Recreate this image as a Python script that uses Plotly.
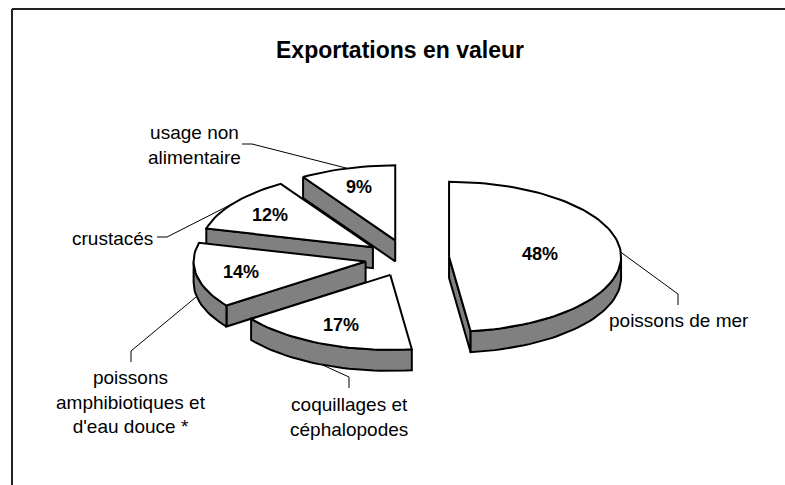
import numpy as np
import plotly.graph_objects as go

# ---------------- data ----------------
categories = ["poissons de mer", "coquillages et céphalopodes",
              "poissons amphibiotiques et d'eau douce *", "crustacés",
              "usage non alimentaire"]
category_text = ["poissons de mer", "coquillages et<br>céphalopodes",
                 "poissons<br>amphibiotiques et<br>d'eau douce *", "crustacés",
                 "usage non<br>alimentaire"]
values = [48, 17, 14, 12, 9]
title = "Exportations en valeur"

# ---------------- geometry / style ----------------
CX, CY = 407, 258          # pie centre (pixel units)
RX, RY = 172, 75           # ellipse radii of the tilted pie
DEPTH = 21                 # thickness of the 3D pie
EXPLODE = 0.245            # explosion as fraction of radius
SIDE = "#808080"
TOP = "#ffffff"
EDGE = "#000000"
FONT = "Liberation Sans, Arial, sans-serif"

# text anchor + leader elbows for outside category labels
label_layout = [
    dict(x=679, y=320, xanchor="center", elbow=[(678, 294), (678, 305)]),
    dict(x=349, y=417, xanchor="center", elbow=[(349, 377), (349, 388)]),
    dict(x=131, y=402, xanchor="center", elbow=[(131, 351), (131, 362)]),
    dict(x=155, y=238, xanchor="right", elbow=[(167, 237), (157, 237)]),
    dict(x=194, y=145, xanchor="center", elbow=[(252, 144), (242, 144)]),
]


def ell(theta_deg, ox, oy, s=1.0):
    t = np.radians(theta_deg)
    return ox + s * RX * np.sin(t), oy - s * RY * np.cos(t)


total = float(sum(values))
slices = []
a = 0.0
for i, v in enumerate(values):
    a0, a1 = a, a + 360.0 * v / total
    a = a1
    am = 0.5 * (a0 + a1)
    ax_, ay_ = ell(am, CX, CY, EXPLODE)   # apex after explosion
    n = max(8, int(abs(a1 - a0) / 2))
    th = np.linspace(a0, a1, n)
    px, py = ell(th, ax_, ay_)
    alpha = np.radians(a1 - a0)
    cf = 2.0 / 3.0 * np.sin(alpha / 2) / (alpha / 2)
    lx, ly = ell(am, ax_, ay_, cf + 0.09)
    slices.append(dict(i=i, a0=a0, a1=a1, am=am, ax=ax_, ay=ay_, th=th,
                       px=px, py=py, lx=lx, ly=ly,
                       cy=ay_ + cf * (-RY * np.cos(np.radians(am)))))

fig = go.Figure()


def poly(xs, ys, fill):
    xs = list(xs) + [xs[0]]
    ys = list(ys) + [ys[0]]
    fig.add_trace(go.Scatter(x=xs, y=ys, mode="lines", fill="toself",
                             fillcolor=fill, line=dict(color=EDGE, width=2),
                             hoverinfo="skip", showlegend=False))


for s in sorted(slices, key=lambda d: d["cy"]):
    ax_, ay_ = s["ax"], s["ay"]
    px, py = s["px"], s["py"]
    gx, gy = np.mean(np.r_[ax_, px]), np.mean(np.r_[ay_, py])
    # radial faces
    for (x0, y0), (x1, y1) in [((ax_, ay_), (px[0], py[0])),
                               ((px[-1], py[-1]), (ax_, ay_))]:
        dx, dy = x1 - x0, y1 - y0
        nx, ny = dy, -dx
        mx, my = (x0 + x1) / 2 - gx, (y0 + y1) / 2 - gy
        if nx * mx + ny * my < 0:
            nx, ny = -nx, -ny
        if ny > 1e-6:
            poly([x0, x1, x1, x0], [y0, y1, y1 + DEPTH, y0 + DEPTH], SIDE)
    # curved outer face (front half only)
    lo, hi = max(s["a0"], 90.0), min(s["a1"], 270.0)
    if hi > lo:
        th = np.linspace(lo, hi, max(6, int((hi - lo) / 2)))
        cx_, cy_ = ell(th, ax_, ay_)
        poly(np.r_[cx_, cx_[::-1]], np.r_[cy_, cy_[::-1] + DEPTH], SIDE)
    # top face
    poly(np.r_[ax_, px], np.r_[ay_, py], TOP)

annotations = []
for s in slices:
    annotations.append(dict(x=s["lx"], y=s["ly"], text=f"<b>{values[s['i']]}%</b>",
                            showarrow=False, xanchor="center", yanchor="middle",
                            font=dict(family=FONT, size=18, color="#000")))

# leader lines + category labels
for s, lay, txt in zip(slices, label_layout, category_text):
    am = s["am"]
    sx, sy = ell(am, s["ax"], s["ay"])
    if np.cos(np.radians(am)) < 0:
        sy += DEPTH
    xs = [sx] + [p[0] for p in lay["elbow"]]
    ys = [sy] + [p[1] for p in lay["elbow"]]
    fig.add_trace(go.Scatter(x=xs, y=ys, mode="lines",
                             line=dict(color="#000", width=1),
                             hoverinfo="skip", showlegend=False))
    annotations.append(dict(x=lay["x"], y=lay["y"], text=txt, showarrow=False,
                            xanchor=lay["xanchor"], yanchor="middle", align="center",
                            font=dict(family=FONT, size=19, color="#000")))

annotations.append(dict(x=400, y=50, text=f"<b>{title}</b>", showarrow=False,
                        xanchor="center", yanchor="middle",
                        font=dict(family=FONT, size=23, color="#000")))

frame = dict(color="#222", width=2)
fig.update_layout(
    width=785, height=485, margin=dict(l=0, r=0, t=0, b=0),
    paper_bgcolor="white", plot_bgcolor="white",
    xaxis=dict(range=[0, 785], visible=False, fixedrange=True),
    yaxis=dict(range=[485, 0], visible=False, fixedrange=True),
    annotations=annotations,
    shapes=[
        dict(type="line", xref="paper", yref="paper", x0=12 / 785, x1=1,
             y0=1 - 9 / 485, y1=1 - 9 / 485, line=frame, layer="above"),
        dict(type="line", xref="paper", yref="paper", x0=12 / 785, x1=12 / 785,
             y0=1 - 9 / 485, y1=0, line=frame, layer="above"),
    ],
)

fig.write_html(
    "out.html",
    config={"displayModeBar": False},
    post_script="document.body.style.margin='0';document.body.style.overflow='hidden';",
)
